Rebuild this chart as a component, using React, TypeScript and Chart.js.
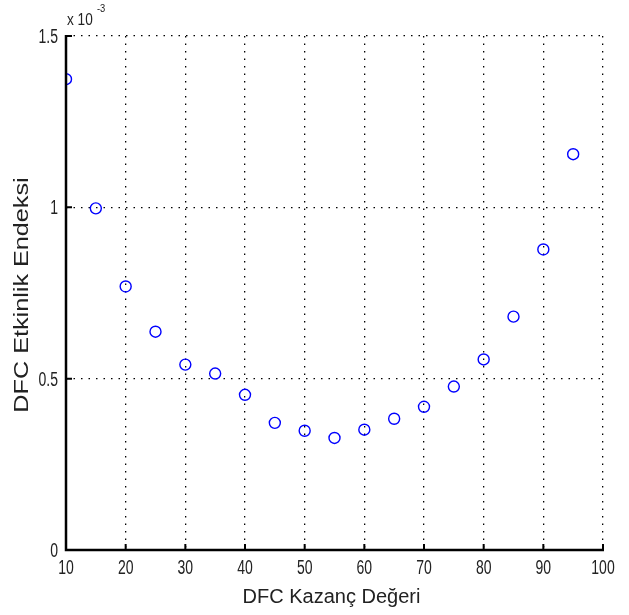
import React, { useEffect, useRef } from "react";
import { Chart, registerables } from "chart.js";

Chart.register(...registerables);

const gains = [10, 15, 20, 25, 30, 35, 40, 45, 50, 55, 60, 65, 70, 75, 80, 85, 90, 95];
const efficiency = [1.374, 0.997, 0.769, 0.637, 0.541, 0.515, 0.453, 0.371, 0.348, 0.327, 0.351, 0.383, 0.418, 0.477, 0.556, 0.681, 0.877, 1.155];
const xTicks = [10, 20, 30, 40, 50, 60, 70, 80, 90, 100];
const xTickLabels = ["10", "20", "30", "40", "50", "60", "70", "80", "90", "100"];
const yTicks = [0, 0.5, 1, 1.5];
const yTickLabels = ["0", "0.5", "1", "1.5"];
const xTitle = "DFC Kazanç Değeri";
const yTitle = "DFC Etkinlik Endeksi";
const exponentBase = "x 10";
const exponentPower = "-3";

const FONT = "'Liberation Sans', Arial, sans-serif";
const TEXT = "#222";

function squeezedText(ctx: any, text: string, x: number, y: number, sx: number, sy: number, rot = 0) {
  ctx.save();
  ctx.translate(x, y);
  if (rot) ctx.rotate(rot);
  ctx.scale(sx, sy);
  ctx.fillText(text, 0, 0);
  ctx.restore();
}

const axesPlugin = {
  id: "matlabAxes",
  afterDraw(chart: any) {
    const { ctx, chartArea, scales } = chart;
    const xs = scales.x;
    const ys = scales.y;
    ctx.save();
    ctx.strokeStyle = "#000";
    ctx.lineWidth = 2.5;
    ctx.beginPath();
    ctx.moveTo(chartArea.left, chartArea.top - 1);
    ctx.lineTo(chartArea.left, chartArea.bottom);
    ctx.lineTo(chartArea.right + 1, chartArea.bottom);
    ctx.stroke();
    ctx.lineWidth = 2;
    ctx.beginPath();
    for (const v of xTicks) {
      const px = xs.getPixelForValue(v);
      ctx.moveTo(px, chartArea.bottom);
      ctx.lineTo(px, chartArea.bottom - 6);
    }
    for (const v of yTicks) {
      const py = ys.getPixelForValue(v);
      ctx.moveTo(chartArea.left, py);
      ctx.lineTo(chartArea.left + 6, py);
    }
    ctx.stroke();

    ctx.fillStyle = TEXT;
    ctx.font = `20px ${FONT}`;
    ctx.textAlign = "center";
    ctx.textBaseline = "alphabetic";
    xTicks.forEach((v, i) => {
      squeezedText(ctx, xTickLabels[i], xs.getPixelForValue(v), chartArea.bottom + 24, 0.7, 1);
    });
    ctx.textAlign = "right";
    yTicks.forEach((v, i) => {
      squeezedText(ctx, yTickLabels[i], chartArea.left - 8, ys.getPixelForValue(v) + 7, 0.7, 1);
    });
    ctx.textAlign = "center";
    ctx.font = `20px ${FONT}`;
    squeezedText(ctx, xTitle, (chartArea.left + chartArea.right) / 2 - 3, 603, 1, 1);
    squeezedText(ctx, yTitle, 28, (chartArea.top + chartArea.bottom) / 2 + 2, 1.26, 1, -Math.PI / 2);
    ctx.textAlign = "left";
    ctx.font = `16px ${FONT}`;
    squeezedText(ctx, exponentBase, chartArea.left + 1, chartArea.top - 11, 0.85, 1);
    ctx.font = `11px ${FONT}`;
    squeezedText(ctx, exponentPower, chartArea.left + 31, chartArea.top - 24, 0.85, 1);
    ctx.restore();
  },
};

export default function App() {
  const ref = useRef<HTMLCanvasElement>(null);
  useEffect(() => {
    if (!ref.current) return;
    const chart = new Chart(ref.current, {
      type: "scatter",
      data: {
        datasets: [
          {
            data: gains.map((g, i) => ({ x: g, y: efficiency[i] })),
            borderColor: "#0000ff",
            backgroundColor: "rgba(0,0,0,0)",
            borderWidth: 1.4,
            pointRadius: 5.5,
            pointHoverRadius: 5.5,
          },
        ],
      },
      options: {
        animation: false,
        responsive: false,
        events: [],
        layout: { padding: { left: 0, top: 36, right: 26, bottom: 0 } },
        plugins: { legend: { display: false }, tooltip: { enabled: false } },
        scales: {
          x: {
            type: "linear",
            min: 10,
            max: 100,
            afterBuildTicks(scale: any) {
              scale.ticks = xTicks.map((v) => ({ value: v }));
            },
            afterFit(scale: any) {
              scale.height = 65;
            },
            border: { display: false, dash: [1.5, 6] },
            grid: {
              color: (c: any) => (c.tick && c.tick.value === 10 ? "rgba(0,0,0,0)" : "#000"),
              lineWidth: 1.3,
              drawTicks: false,
            },
            ticks: { display: false, autoSkip: false },
          },
          y: {
            type: "linear",
            min: 0,
            max: 1.5,
            afterBuildTicks(scale: any) {
              scale.ticks = yTicks.map((v) => ({ value: v }));
            },
            afterFit(scale: any) {
              scale.width = 66;
            },
            border: { display: false, dash: [1.5, 6] },
            grid: {
              color: (c: any) => (c.tick && c.tick.value === 0 ? "rgba(0,0,0,0)" : "#000"),
              lineWidth: 1.3,
              drawTicks: false,
            },
            ticks: { display: false, autoSkip: false },
          },
        },
      } as any,
      plugins: [axesPlugin],
    });
    return () => chart.destroy();
  }, []);
  return (
    <div style={{ position: "fixed", left: 0, top: 0, width: 629, height: 615, background: "#fff" }}>
      <canvas ref={ref} width={629} height={615} />
    </div>
  );
}
